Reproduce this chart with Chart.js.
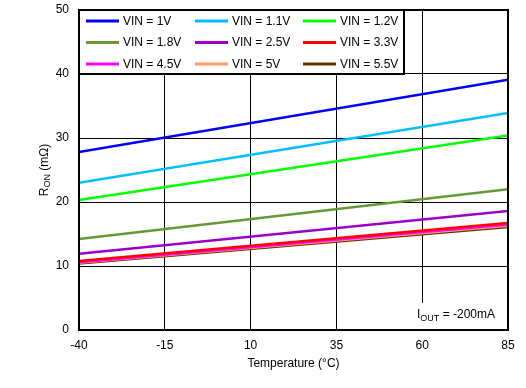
<!DOCTYPE html>
<html>
<head>
<meta charset="utf-8">
<script src="https://cdn.jsdelivr.net/npm/chart.js@4.4.0/dist/chart.umd.min.js"></script>
<style>
html,body{margin:0;padding:0;background:#fff;}
#wrap{width:526px;height:388px;position:relative;}
</style>
</head>
<body>
<div id="wrap"><canvas id="c" width="526" height="388"></canvas></div>
<script>
const temps = [-40, 85];
const xTicks = [-40, -15, 10, 35, 60, 85];
const yTicks = [0, 10, 20, 30, 40, 50];
const seriesLabels = ['VIN = 1V','VIN = 1.1V','VIN = 1.2V','VIN = 1.8V','VIN = 2.5V','VIN = 3.3V','VIN = 4.5V','VIN = 5V','VIN = 5.5V'];
const vin1V   = [27.8, 39.1];
const vin1_1V = [23.0, 33.9];
const vin1_2V = [20.3, 30.4];
const vin1_8V = [14.2, 22.0];
const vin2_5V = [11.9, 18.6];
const vin3_3V = [10.8, 16.7];
const vin4_5V = [10.6, 16.5];
const vin5V   = [10.5, 16.3];
const vin5_5V = [10.4, 16.1];
const seriesColors = ['#0000FF','#00BFFF','#00FF00','#669933','#9900CC','#FF0000','#FF00FF','#FF9966','#663300'];
const allSeries = [vin1V, vin1_1V, vin1_2V, vin1_8V, vin2_5V, vin3_3V, vin4_5V, vin5V, vin5_5V];
const xTitle = 'Temperature (°C)';
const yTitleMain = 'R', yTitleSub = 'ON', yTitleRest = ' (mΩ)';
const noteMain = 'I', noteSub = 'OUT', noteRest = ' = -200mA';

const FONT = 'Arial, "Liberation Sans", sans-serif';

const datasets = allSeries.map((s, i) => ({
  label: seriesLabels[i],
  data: s.map((v, j) => ({x: temps[j], y: v})),
  borderColor: seriesColors[i],
  backgroundColor: seriesColors[i],
  borderWidth: 2.5,
  pointRadius: 0,
  tension: 0,
  fill: false
}));

function zeroPad(s) { s.paddingTop = 0; s.paddingBottom = 0; s.paddingLeft = 0; s.paddingRight = 0; }

const overlay = {
  id: 'overlay',
  afterDraw(chart) {
    const ctx = chart.ctx;
    const a = chart.chartArea;
    ctx.save();
    // IOUT note box
    ctx.fillStyle = '#fff';
    ctx.fillRect(410, 303, a.right - 410, a.bottom - 303);
    ctx.fillStyle = '#000';
    ctx.textBaseline = 'alphabetic';
    ctx.textAlign = 'left';
    let x = 417;
    ctx.font = '12px ' + FONT;
    ctx.fillText(noteMain, x, 318);
    x += ctx.measureText(noteMain).width;
    ctx.font = '9px ' + FONT;
    ctx.fillText(noteSub, x, 321);
    x += ctx.measureText(noteSub).width;
    ctx.font = '12px ' + FONT;
    ctx.fillText(noteRest, x, 318);

    // Legend box
    const lx = a.left, ly = a.top, lw = 325, lh = 64;
    ctx.fillStyle = '#fff';
    ctx.fillRect(lx, ly, lw, lh);
    ctx.strokeStyle = '#000';
    ctx.lineWidth = 2;
    ctx.strokeRect(lx, ly, lw, lh);
    const cols = [86, 195, 303];
    const rows = [a.top + 11, a.top + 32.5, a.top + 54];
    chart.data.datasets.forEach((ds, i) => {
      const cx = cols[i % 3], cy = rows[Math.floor(i / 3)];
      ctx.strokeStyle = ds.borderColor;
      ctx.lineWidth = 3;
      ctx.beginPath();
      ctx.moveTo(cx, cy);
      ctx.lineTo(cx + 33, cy);
      ctx.stroke();
      ctx.fillStyle = '#000';
      ctx.font = '12px ' + FONT;
      ctx.textBaseline = 'middle';
      ctx.fillText(ds.label, cx + 37, cy + 0.5);
    });

    // Frame
    ctx.strokeStyle = '#000';
    ctx.lineWidth = 2;
    ctx.strokeRect(a.left, a.top, a.right - a.left, a.bottom - a.top);

    // Y title with subscript
    ctx.translate(45, 170);
    ctx.rotate(-Math.PI / 2);
    ctx.fillStyle = '#000';
    ctx.textBaseline = 'middle';
    ctx.font = '12px ' + FONT;
    const w1 = ctx.measureText(yTitleMain).width;
    const w3 = ctx.measureText(yTitleRest).width;
    ctx.font = '9px ' + FONT;
    const w2 = ctx.measureText(yTitleSub).width;
    let tx = -(w1 + w2 + w3) / 2;
    ctx.font = '12px ' + FONT;
    ctx.fillText(yTitleMain, tx, 0);
    tx += w1;
    ctx.font = '9px ' + FONT;
    ctx.fillText(yTitleSub, tx, 3);
    tx += w2;
    ctx.font = '12px ' + FONT;
    ctx.fillText(yTitleRest, tx, 0);
    ctx.restore();
  }
};

new Chart(document.getElementById('c'), {
  type: 'line',
  data: { datasets },
  options: {
    responsive: false,
    animation: false,
    layout: { padding: { top: 10, right: 18, left: 0, bottom: 17 } },
    plugins: { legend: { display: false }, tooltip: { enabled: false } },
    scales: {
      x: {
        type: 'linear',
        min: -40, max: 85,
        afterBuildTicks(s) { s.ticks = xTicks.map(v => ({value: v})); },
        afterFit(s) { s.height = 41; zeroPad(s); },
        grid: { color: '#000', lineWidth: 1, drawTicks: false },
        border: { display: false },
        ticks: { color: '#000', font: { family: FONT, size: 12 }, padding: 8, maxRotation: 0 },
        title: { display: true, text: xTitle, color: '#000', font: { family: FONT, size: 12 }, padding: { top: 5, bottom: 0 } }
      },
      y: {
        min: 0, max: 50,
        afterBuildTicks(s) { s.ticks = yTicks.map(v => ({value: v})); },
        afterFit(s) { s.width = 79; zeroPad(s); },
        grid: { color: '#000', lineWidth: 1, drawTicks: false },
        border: { display: false },
        ticks: { color: '#000', font: { family: FONT, size: 12 }, padding: 10 }
      }
    }
  },
  plugins: [overlay]
});
</script>
</body>
</html>
